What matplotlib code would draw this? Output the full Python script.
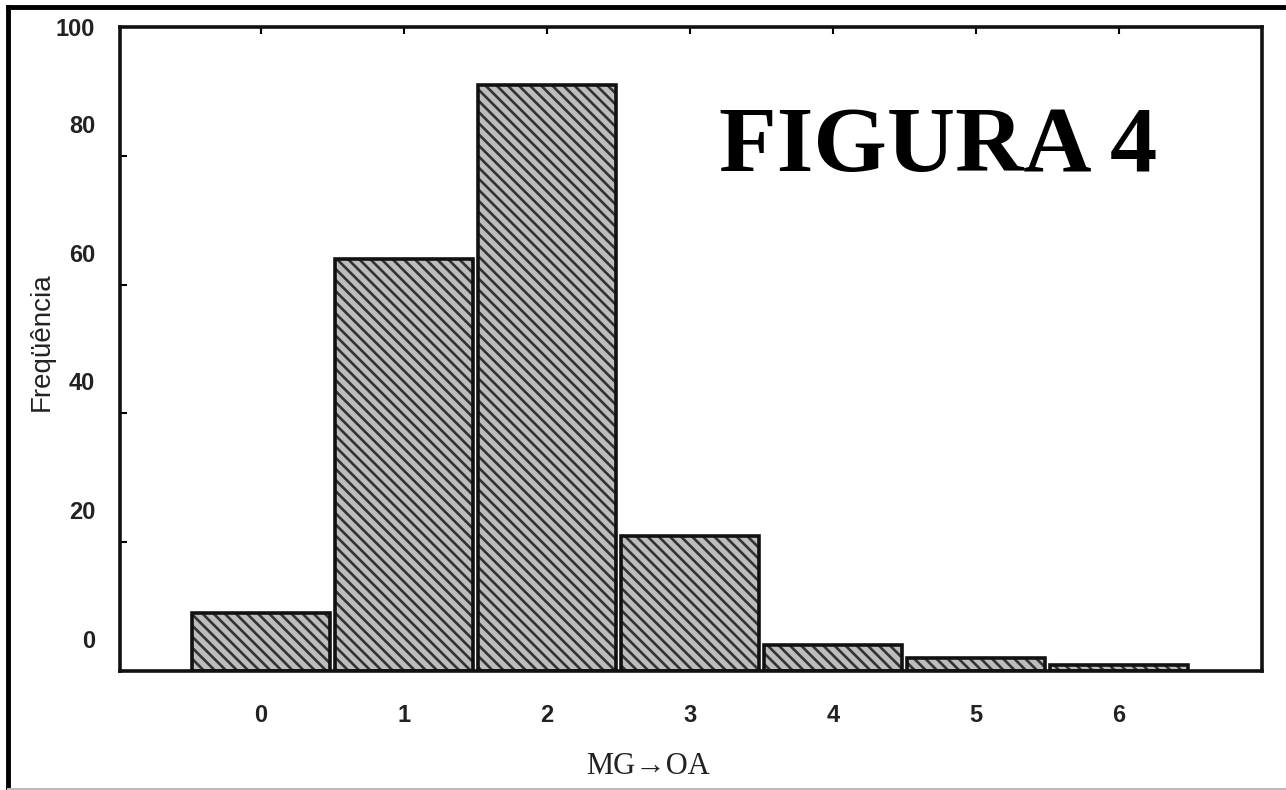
import matplotlib
matplotlib.use("Agg")
import matplotlib.pyplot as plt
import matplotlib.transforms as mtransforms
from matplotlib.lines import Line2D

# values
categories = [0, 1, 2, 3, 4, 5, 6]
freq = [9, 64, 91, 21, 4, 2, 1]
yticks = [0, 20, 40, 60, 80, 100]
xticklabels = ["0", "1", "2", "3", "4", "5", "6"]

plt.rcParams["hatch.linewidth"] = 1.9
plt.rcParams["font.family"] = ["Liberation Sans", "DejaVu Sans"]

fig = plt.figure(figsize=(12.86, 7.9), dpi=100)
ax = fig.add_axes([120 / 1286, 1 - 671 / 790, (1262 - 120) / 1286, (671 - 27) / 790])

# hatched fill first, then the black outline on top
ax.bar(categories, freq, width=0.96, color="#bdbdbd", edgecolor="#333333",
       linewidth=0, hatch="\\\\\\", zorder=2)
ax.bar(categories, freq, width=0.96, fill=False, edgecolor="#111111",
       linewidth=2.6, zorder=3)

ax.set_xlim(-0.986, 7.0)
ax.set_ylim(0, 100)
ax.set_yticks(yticks)
ax.set_xticks(categories)
ax.set_xticklabels(xticklabels)

for side in ax.spines.values():
    side.set_linewidth(2.6)
    side.set_color("#111111")

ax.tick_params(axis="y", direction="in", length=5, width=1.5, pad=18,
               labelsize=17)
ax.tick_params(axis="x", direction="in", length=5, width=1.5, pad=24,
               labelsize=17, top=True)
for lab in ax.get_xticklabels() + ax.get_yticklabels():
    lab.set_fontweight("bold")
    lab.set_color("#222222")

# the printed y labels sit a bit above their ticks (except 100)
for lab, val in zip(ax.get_yticklabels(), yticks):
    if val < 100:
        shift = mtransforms.ScaledTranslation(0, 32 / 100, fig.dpi_scale_trans)
        lab.set_transform(lab.get_transform() + shift)

fig.text(42 / 1286, 1 - 342 / 790, "Freqüência", rotation=90, fontsize=20,
         ha="center", va="center", color="#222222")
fig.text(648 / 1286, 1 - 766 / 790, "MG→OA", fontsize=22,
         family=["Liberation Serif", "DejaVu Serif"],
         ha="center", va="center", color="#222222")
ax.text(0.716, 0.812, "FIGURA 4", transform=ax.transAxes, fontsize=68,
        family=["Liberation Serif", "DejaVu Serif"], fontweight="bold",
        ha="center", va="center", color="black")

# scan border: thick left and top edges, faint bottom
fig.add_artist(Line2D([8 / 1286, 8 / 1286], [0, 1 - 7 / 790], color="black",
                      linewidth=3.5, transform=fig.transFigure))
fig.add_artist(Line2D([8 / 1286, 1], [1 - 7 / 790, 1 - 7 / 790], color="black",
                      linewidth=3.5, transform=fig.transFigure))
fig.add_artist(Line2D([8 / 1286, 1], [1 / 790, 1 / 790], color="#bbbbbb",
                      linewidth=1.5, transform=fig.transFigure))

fig.savefig("out.png", dpi=100)
